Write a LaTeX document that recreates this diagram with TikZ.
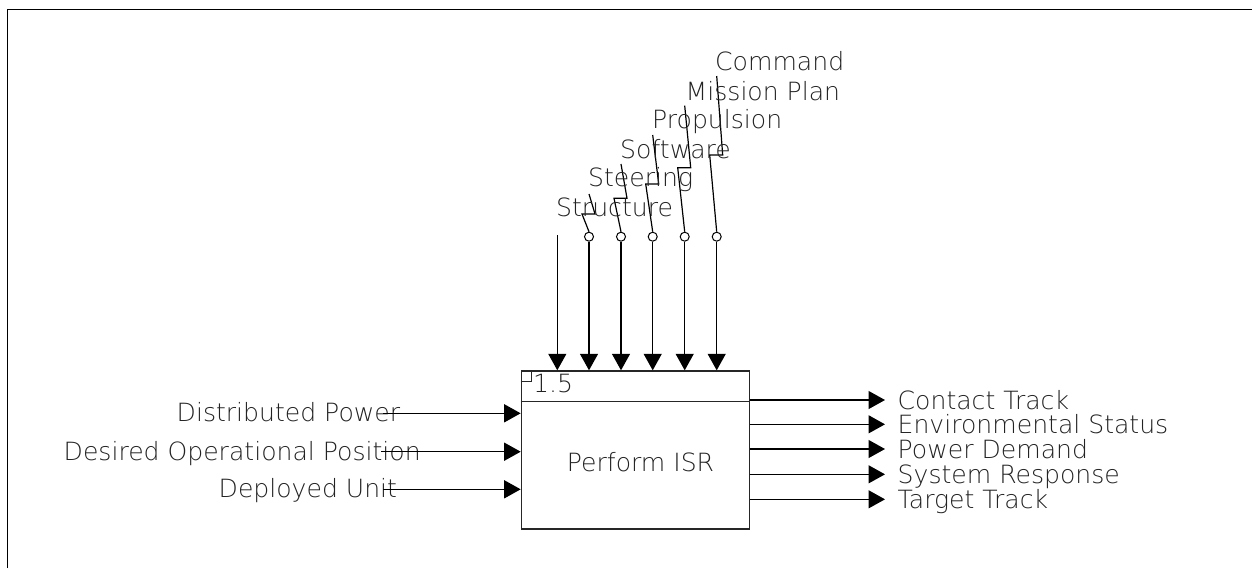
\documentclass[tikz,border=0pt]{standalone}
\usepackage{fontspec}
\setmainfont{DejaVu Sans ExtraLight}
\usetikzlibrary{arrows.meta}
\definecolor{txt}{HTML}{222222}
\tikzset{
  lbl/.style={inner sep=0pt, anchor=base west, text=txt, font=\fontsize{25.1}{26}\selectfont},
  ln/.style={line width=1.3pt, black},
  arr/.style={ln, -{Triangle[length=16.5pt, width=18pt]}},
  tunnel/.style={circle, draw, line width=1pt, minimum size=9pt, inner sep=0pt},
  boxst/.style={draw=black!85, line width=1.4pt, minimum width=228pt, minimum height=158pt, inner sep=0pt, anchor=north west},
}
\begin{document}
\begin{tikzpicture}[x=1pt, y=-1pt]
\useasboundingbox (0,0) rectangle (1252,568);
% frame
\draw[line width=1.5pt] (7.3,568) -- (7.3,9.3) -- (1252,9.3);
% box
\node[boxst] (box) at (520.7,370.3) {};
\coordinate (dl) at (520.7,401.5);
\coordinate (dr) at (748.7,401.5);
\draw[draw=black!85, line width=1.3pt] (dl) -- (dr);
\draw[draw=black!85, line width=1pt] (520.7,381) -| (531.5,370.3);
\node[lbl] (num) at (533,392.3) {1.5};
\node[lbl] (title) at (566.7,471) {Perform ISR};
% top control arrows
\coordinate (t1) at (557.3,235);
\draw[arr] (t1) -- (t1 |- box.north);
\foreach \i/\x/\yj/\yt in {2/589/214/194, 3/621/198.3/164, 4/652.7/184/135, 5/684.7/167.7/105.7, 6/716.7/155/76}{
  \node[tunnel] (c\i) at (\x,236.7) {};
  \draw[arr] (c\i.south) -- (c\i.south |- box.north);
  \coordinate (ja\i) at (\x-7,\yj);
  \coordinate (jb\i) at (\x+6,\yj);
  \coordinate (jt\i) at (\x,\yt);
  \draw[ln, line width=1.2pt] (c\i.north) -- (ja\i) -- (jb\i) -- (jt\i);
}
% top labels
\node[lbl] (l1) at (556,216.7) {Structure};
\node[lbl] (l2) at (588,186.7) {Steering};
\node[lbl] (l3) at (620,158.3) {Software};
\node[lbl] (l4) at (652,128.3) {Propulsion};
\node[lbl] (l5) at (685.5,100) {Mission Plan};
\node[lbl] (l6) at (715,70) {Command};
% inputs
\node[lbl] (i1) at (176.5,421.7) {Distributed Power};
\node[lbl] (i2) at (63.5,460) {Desired Operational Position};
\node[lbl] (i3) at (218.5,497.3) {Deployed Unit};
\coordinate (s1) at (383,413.3);
\coordinate (s2) at (381,451.7);
\coordinate (s3) at (383,489.3);
\draw[arr] (s1) -- (s1 -| box.west);
\draw[arr] (s2) -- (s2 -| box.west);
\draw[arr] (s3) -- (s3 -| box.west);
% outputs
\foreach \i/\y/\t in {1/400/Contact Track, 2/424.3/Environmental Status, 3/449/Power Demand, 4/474.3/System Response, 5/499.3/Target Track}{
  \coordinate (o\i) at (885,\y);
  \node[lbl] (ol\i) at (897.5,\y+9) {\t};
  \draw[arr] (o\i -| box.east) -- (o\i);
}
\end{tikzpicture}
\end{document}
